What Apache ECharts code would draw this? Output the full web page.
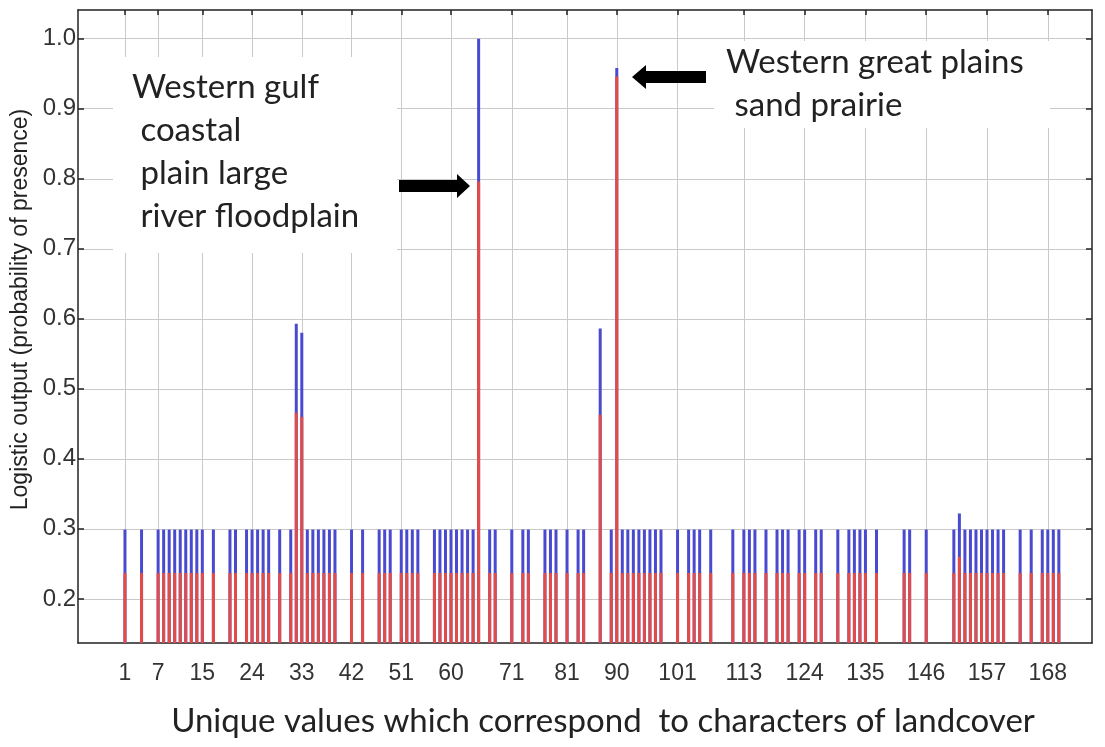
<!DOCTYPE html>
<html>
<head>
<meta charset="utf-8">
<script src="https://cdn.jsdelivr.net/npm/echarts@6/dist/echarts.min.js"></script>
<style>
  html, body { margin: 0; padding: 0; background: #fff; }
  #chart { width: 1105px; height: 747px; }
</style>
</head>
<body>
<div id="chart"></div>
<script>
// ---- data ----
const categories = [1, 4, 7, 8, 9, 10, 11, 12, 13, 14, 15, 17, 20, 21, 23, 24, 25, 26, 27, 29, 31, 32, 33, 34, 35, 36, 37, 38, 39, 42, 44, 47, 48, 49, 51, 52, 53, 54, 57, 58, 59, 60, 61, 62, 63, 64, 65, 67, 68, 71, 73, 74, 77, 78, 79, 81, 83, 84, 87, 89, 90, 91, 92, 93, 94, 95, 96, 97, 98, 101, 103, 104, 105, 107, 111, 113, 114, 115, 117, 119, 120, 121, 123, 124, 126, 127, 130, 132, 133, 134, 135, 137, 142, 143, 146, 151, 152, 153, 154, 155, 156, 157, 158, 159, 160, 163, 165, 167, 168, 169, 170];
// mean response (red) for the categories that differ from the common level
const meanSpecial = { 32: 0.466, 33: 0.46, 65: 0.796, 87: 0.463, 90: 0.946, 152: 0.26 };
// mean + one standard deviation (blue) for the categories that differ
const upperSpecial = { 32: 0.593, 33: 0.580, 65: 1.0, 87: 0.586, 90: 0.958, 152: 0.322 };
const baseMean = 0.237;
const baseUpper = 0.299;
const meanValues = categories.map(c => meanSpecial[c] !== undefined ? meanSpecial[c] : baseMean);
const upperValues = categories.map(c => upperSpecial[c] !== undefined ? upperSpecial[c] : baseUpper);
const xTickLabels = [1, 7, 15, 24, 33, 42, 51, 60, 71, 81, 90, 101, 113, 124, 135, 146, 157, 168];
const yTickLabels = [0.2, 0.3, 0.4, 0.5, 0.6, 0.7, 0.8, 0.9, 1.0];

const chart = echarts.init(document.getElementById('chart'));

const gridColor = '#c9c9c9';
const axisColor = '#222';

const option = {
  animation: false,
  backgroundColor: '#fff',
  grid: { left: 78, right: 13, top: 10, bottom: 104 },
  xAxis: [
    {
      type: 'value', min: -7.5, max: 176, position: 'bottom',
      name: 'Unique values which correspond  to characters of landcover',
      nameLocation: 'middle', nameGap: 62,
      nameTextStyle: { fontFamily: 'Lato', fontSize: 33, color: '#222', padding: [0, 0, 0, 36] },
      axisLine: { show: true, onZero: false, lineStyle: { color: axisColor, width: 1.5 } },
      axisTick: { show: true, inside: true, length: 5, customValues: xTickLabels, lineStyle: { color: axisColor, width: 2 } },
      axisLabel: { customValues: xTickLabels, margin: 19, fontFamily: 'Liberation Sans', fontSize: 23, color: '#333' },
      splitLine: { show: true, lineStyle: { color: gridColor, width: 1 } }
    },
    {
      type: 'value', min: -7.5, max: 176, position: 'top',
      axisLine: { show: true, onZero: false, lineStyle: { color: axisColor, width: 1.5 } },
      axisTick: { show: true, inside: true, length: 5, customValues: xTickLabels, lineStyle: { color: axisColor, width: 1.5 } },
      axisLabel: { show: false },
      splitLine: { show: false }
    }
  ],
  yAxis: [
    {
      type: 'value', min: 0.137, max: 1.041, position: 'left',
      name: 'Logistic output (probability of presence)',
      nameLocation: 'middle', nameGap: 45,
      nameTextStyle: { fontFamily: 'Liberation Sans', fontSize: 23, color: '#222', padding: [0, 0, 0, 34] },
      axisLine: { show: true, onZero: false, lineStyle: { color: axisColor, width: 1.5 } },
      axisTick: { show: true, inside: true, length: 6, customValues: yTickLabels, lineStyle: { color: axisColor, width: 1.5 } },
      axisLabel: { customValues: yTickLabels, margin: 2, fontFamily: 'Liberation Sans', fontSize: 24, color: '#333', formatter: v => v.toFixed(1) },
      splitLine: { show: true, lineStyle: { color: gridColor, width: 1 } }
    },
    {
      type: 'value', min: 0.137, max: 1.041, position: 'right',
      axisLine: { show: true, onZero: false, lineStyle: { color: axisColor, width: 1.5 } },
      axisTick: { show: true, inside: true, length: 6, customValues: yTickLabels, lineStyle: { color: axisColor, width: 1.5 } },
      axisLabel: { show: false },
      splitLine: { show: false }
    }
  ],
  series: [
    {
      name: 'Mean + 1 SD', type: 'bar', xAxisIndex: 0, yAxisIndex: 0,
      barWidth: 3, barGap: '-100%',
      itemStyle: { color: '#4a4ad0' },
      data: categories.map((c, i) => [c, upperValues[i]]),
      z: 2
    },
    {
      name: 'Mean', type: 'bar', xAxisIndex: 0, yAxisIndex: 0,
      barWidth: 3, barGap: '-100%',
      itemStyle: { color: '#e24c48' },
      data: categories.map((c, i) => [c, meanValues[i]]),
      z: 3
    }
  ]
};
chart.setOption(option);

// ---- annotations: white label boxes with text, and arrows ----
const annoFont = '33px Lato';
const txt = (s, x, y) => ({ type: 'text', x: x, y: y, z: 51, style: { text: s, font: annoFont, fill: '#222', verticalAlign: 'middle' } });
chart.setOption({
  graphic: [
    { type: 'rect', shape: { x: 113, y: 57, width: 284, height: 196 }, style: { fill: '#fff' }, z: 50 },
    txt('Western gulf', 132, 87),
    txt(' coastal', 132, 130),
    txt(' plain large', 132, 173),
    txt(' river floodplain', 132, 216),
    { type: 'rect', shape: { x: 714, y: 41, width: 336, height: 87 }, style: { fill: '#fff' }, z: 50 },
    txt('Western great plains', 726, 62),
    txt(' sand prairie', 726, 105),
    { type: 'polygon', z: 52, shape: { points: [[399, 180], [457, 180], [457, 174], [470, 186], [457, 198], [457, 192], [399, 192]] }, style: { fill: '#000' } },
    { type: 'polygon', z: 52, shape: { points: [[706, 71], [646, 71], [646, 65], [632, 77], [646, 89], [646, 83], [706, 83]] }, style: { fill: '#000' } }
  ]
});
</script>
</body>
</html>
